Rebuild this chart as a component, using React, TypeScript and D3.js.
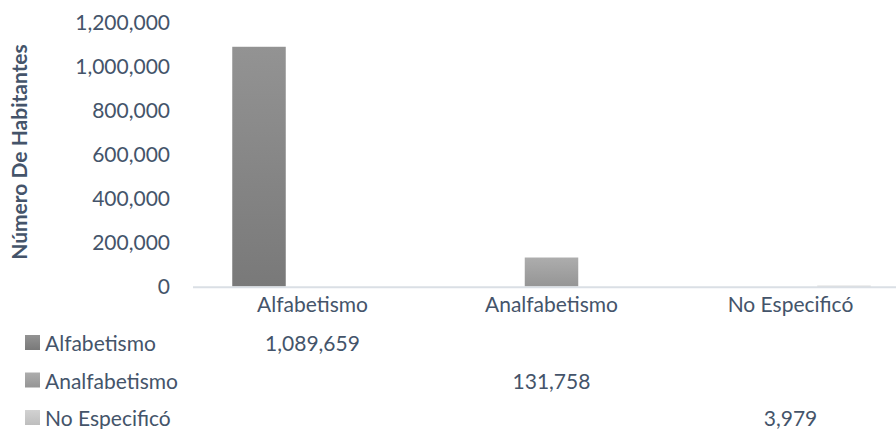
import React from "react";
import * as d3 from "d3";

const categories = ["Alfabetismo", "Analfabetismo", "No Especificó"];
const seriesNames = ["Alfabetismo", "Analfabetismo", "No Especificó"];
const seriesValues = [1089659, 131758, 3979];
const yTicks = [0, 200000, 400000, 600000, 800000, 1000000, 1200000];
const seriesTop = ["#939393", "#adadad", "#d2d2d2"];
const seriesBottom = ["#797979", "#959595", "#bebebe"];

const W = 896;
const H = 429;
const FONT = "Lato, 'Open Sans', sans-serif";
const TEXT = "#44546A";

export default function App() {
  const x = d3.scaleBand<string>().domain(categories).range([193, 193 + 3 * 239]).padding(0);
  const inner = d3.scaleBand<string>().domain(seriesNames).range([0, 160.5]).padding(0);
  const innerOffset = (x.bandwidth() - 160.5) / 2;
  const y = d3.scaleLinear().domain([0, 1200000]).range([286.5, 22.5]);
  const fmt = d3.format(",");
  const rowBase = [351, 388.5, 426];

  return (
    <svg width={W} height={H} style={{ position: "absolute", left: 0, top: 0, background: "#fff" }} fontFamily={FONT}>
      <defs>
        {seriesNames.map((s, i) => (
          <linearGradient key={s} id={`g${i}`} x1="0" y1="0" x2="0" y2="1">
            <stop offset="0%" stopColor={seriesTop[i]} />
            <stop offset="100%" stopColor={seriesBottom[i]} />
          </linearGradient>
        ))}
      </defs>
      {/* y ticks */}
      {yTicks.map((t) => (
        <text key={t} x={170} y={y(t) + 7.5} textAnchor="end" fontSize={21} fill={TEXT}>
          {fmt(t)}
        </text>
      ))}
      {/* y title */}
      <text
        transform={`translate(27,152) rotate(-90)`}
        textAnchor="middle"
        fontSize={21}
        fontWeight="bold"
        fill={TEXT}
      >
        Número De Habitantes
      </text>
      {/* bars */}
      {seriesNames.map((s, i) => {
        const cat = categories[i];
        const bx = (x(cat) as number) + innerOffset + (inner(s) as number);
        const by = y(seriesValues[i]);
        return (
          <rect key={s} x={bx} y={by} width={inner.bandwidth()} height={y(0) - by} fill={`url(#g${i})`} />
        );
      })}
      {/* axis line */}
      <line x1={193} x2={193 + 3 * 239} y1={287.3} y2={287.3} stroke="#dadfe5" strokeWidth={2} />
      {/* category labels */}
      {categories.map((c) => (
        <text key={c} x={(x(c) as number) + x.bandwidth() / 2} y={312} textAnchor="middle" fontSize={21} fill={TEXT}>
          {c}
        </text>
      ))}
      {/* data table */}
      {seriesNames.map((s, i) => (
        <g key={s}>
          <rect x={25} y={rowBase[i] - 16} width={15} height={15} fill={`url(#g${i})`} />
          <text x={45} y={rowBase[i]} fontSize={21} fill={TEXT}>
            {s}
          </text>
          <text
            x={(x(categories[i]) as number) + x.bandwidth() / 2}
            y={rowBase[i]}
            textAnchor="middle"
            fontSize={21}
            fill={TEXT}
          >
            {fmt(seriesValues[i])}
          </text>
        </g>
      ))}
    </svg>
  );
}
